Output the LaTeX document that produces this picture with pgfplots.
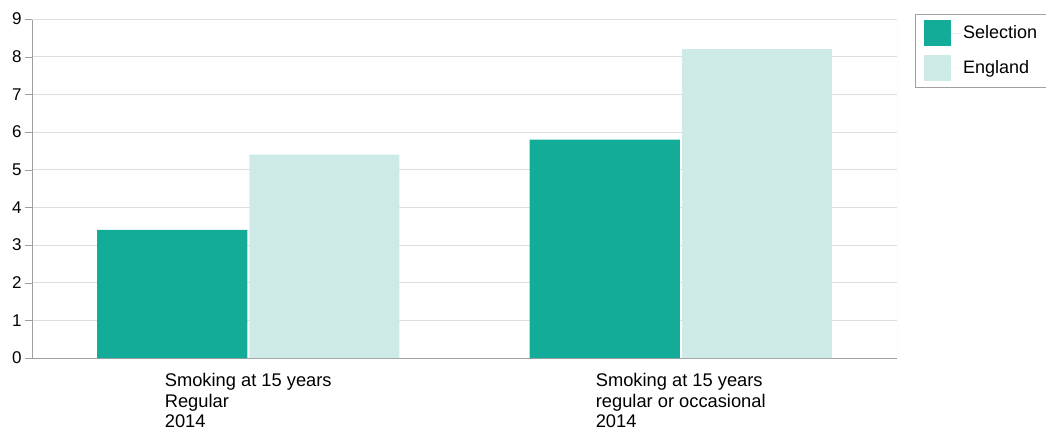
\documentclass[border=0pt]{standalone}
\usepackage{pgfplots}
\pgfplotsset{compat=1.18}
\usepackage{fontspec}
\setmainfont{Liberation Sans}

\definecolor{selection}{RGB}{18,172,152}
\definecolor{england}{RGB}{206,234,230}
\definecolor{gridgray}{RGB}{222,222,222}
\definecolor{axisgray}{RGB}{160,160,160}

\begin{document}
\begin{tikzpicture}[x=1pt,y=1pt]
\begin{axis}[
  at={(0,0)}, anchor=south west,
  scale only axis,
  width=865pt, height=339pt,
  ybar, bar width=0.347,
  xmin=-0.5, xmax=1.5,
  ymin=0, ymax=9,
  xtick=data,
  xticklabels={{Smoking at 15 years\\Regular\\2014},{Smoking at 15 years\\regular or occasional\\2014}},
  x tick label style={align=left, anchor=north, yshift=-5pt,
    font=\fontsize{18.3}{20.5}\selectfont},
  ytick={0,1,...,9},
  y tick label style={font=\fontsize{17}{20}\selectfont, xshift=0pt},
  /pgf/number format/assume math mode=true,
  xtick style={draw=none},
  ytick style={draw=axisgray},
  tick align=outside,
  major tick length=7pt,
  ymajorgrids,
  grid style={draw=gridgray, line width=0.8pt},
  axis line style={draw=gridgray, line width=0.8pt},
  every outer x axis line/.append style={draw=axisgray},
  every outer y axis line/.append style={draw=axisgray},
  axis x line*=bottom, axis y line*=left,
  legend style={at={(1.0208,1.015)}, anchor=north west,
    draw=axisgray, fill=white, font=\fontsize{18}{21}\selectfont,
    inner xsep=9pt, inner ysep=6pt, row sep=9pt,
    cells={anchor=west}},
  legend image code/.code={\fill[#1] (0pt,-13pt) rectangle (27pt,13pt);
    \path (27pt,0pt) -- (37pt,0pt);},
]
% frame of the plotting area
\draw[gridgray, line width=0.8pt] (axis cs:-0.5,9) -- (axis cs:1.5,9) -- (axis cs:1.5,0);
\addplot[fill=selection, draw=none] coordinates {(0,3.4) (1,5.8)};
\addplot[fill=england, draw=none] coordinates {(0,5.4) (1,8.2)};
\legend{Selection, England}
\end{axis}
\pgfresetboundingbox
\useasboundingbox (-32,-74) rectangle (1014,358);
\end{tikzpicture}
\end{document}
